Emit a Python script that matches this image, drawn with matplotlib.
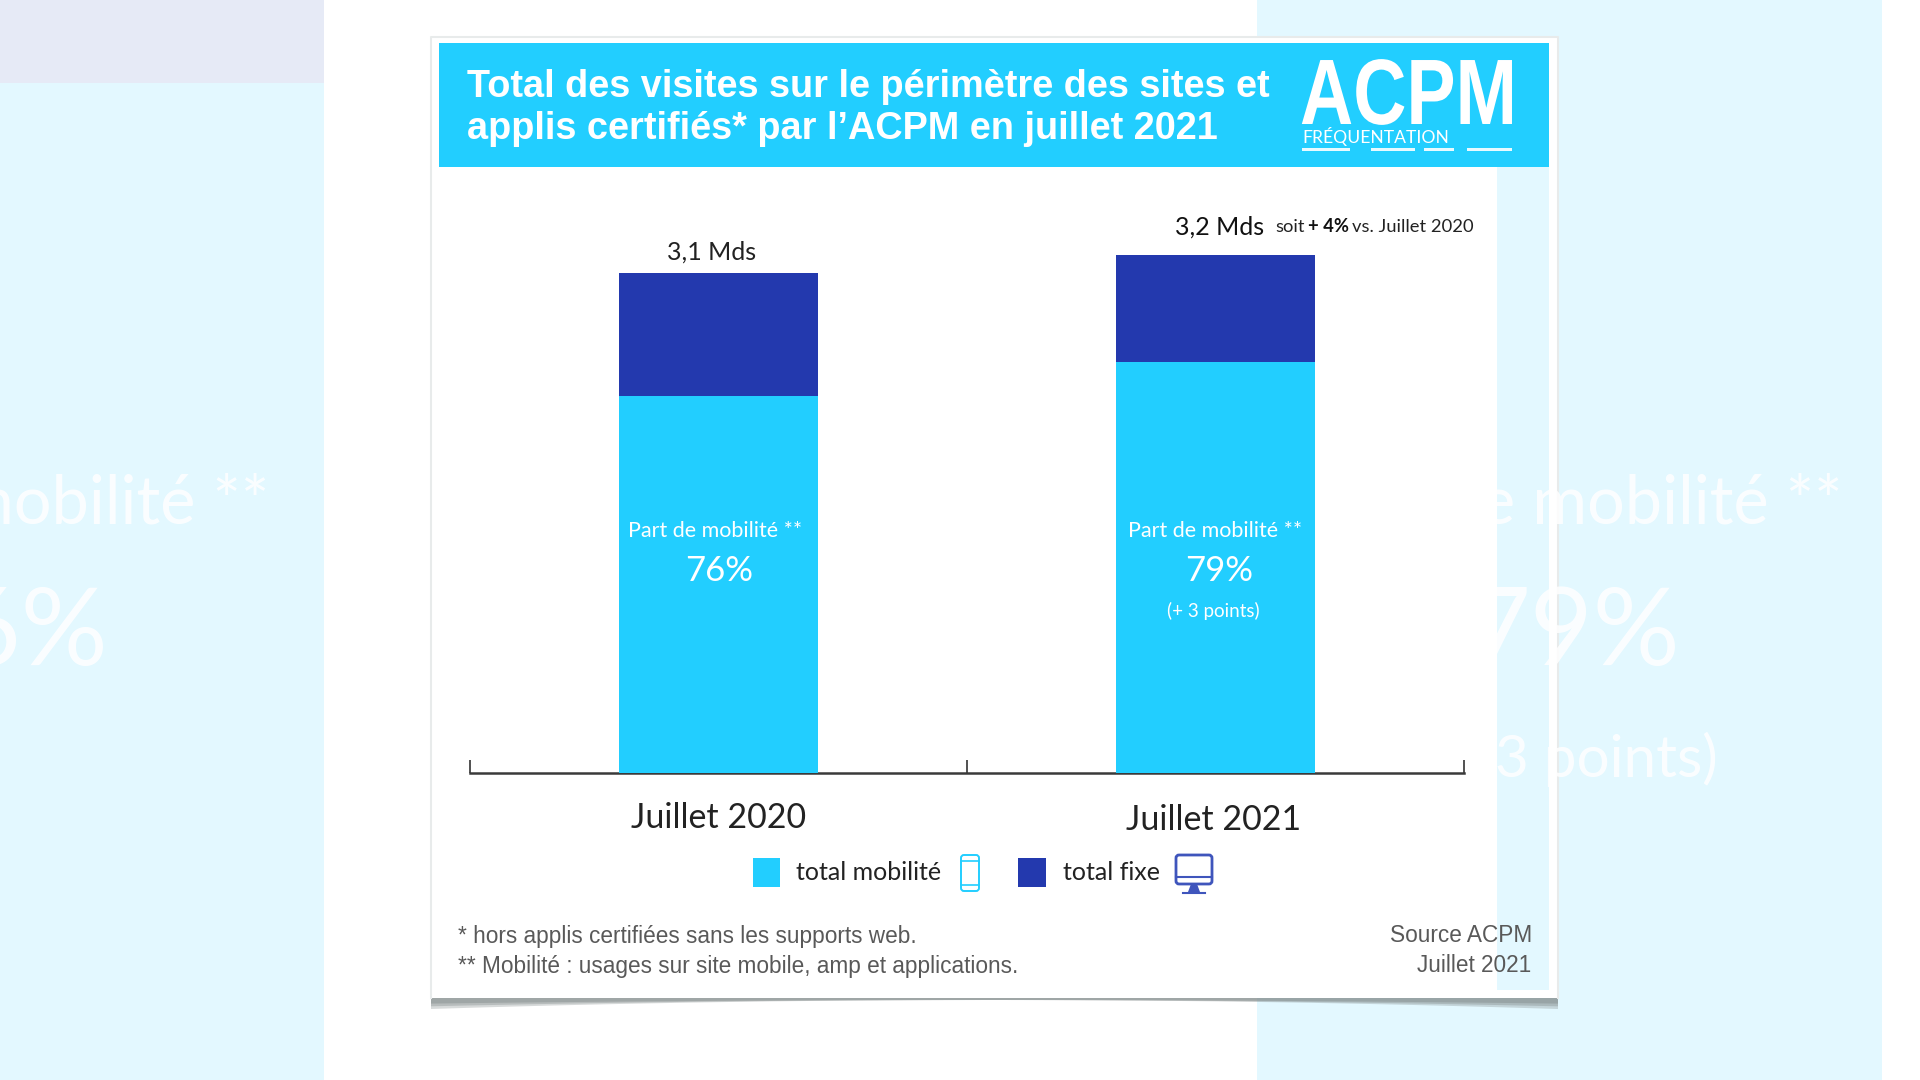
import numpy as np
import matplotlib
matplotlib.use("Agg")
import matplotlib.pyplot as plt
from matplotlib.patches import Rectangle, FancyBboxPatch, Polygon
from matplotlib.patheffects import AbstractPathEffect
from matplotlib.transforms import Affine2D, ScaledTranslation

# Data
periods = ["Juillet 2020", "Juillet 2021"]
mobile = [2.34, 2.55]
fixe = [0.76, 0.66]
total_labels = ["3,1 Mds", "3,2 Mds"]
mobile_share = ["76%", "79%"]

CYAN = "#22CEFF"
NAVY = "#2339AE"
GHOST = "#E3F8FF"
BODY = "Lato"
ARIAL = "Liberation Sans"


# The logo letters are taller than any installed font, so stretch them from the baseline
class Stretch(AbstractPathEffect):
    def __init__(self, sx, sy):
        super().__init__()
        self.sx = sx
        self.sy = sy

    def draw_path(self, renderer, gc, tpath, affine, rgbFace=None):
        renderer.draw_path(gc, tpath, Affine2D().scale(self.sx, self.sy) + affine, rgbFace)


fig = plt.figure(figsize=(19.2, 10.8), dpi=100, facecolor="white")

# Background layer, in pixels
bg = fig.add_axes([0, 0, 1, 1], zorder=0)
bg.set_xlim(0, 1920)
bg.set_ylim(1080, 0)
bg.axis("off")

bg.add_patch(Rectangle((0, 0), 324, 83, fc="#E6EAF6", ec="none"))
bg.add_patch(Rectangle((0, 83), 324, 997, fc=GHOST, ec="none"))
bg.add_patch(Rectangle((1257, 0), 625, 1080, fc=GHOST, ec="none"))

# Blown up copy of the chart behind the card
ghost_style = dict(color="white", alpha=0.85, family=BODY, clip_on=True, ha="right", va="center")
bg.text(269, 504, "mobilité **", fontsize=48, **ghost_style)
bg.text(108, 634, "76%", fontsize=78, **ghost_style)
bg.text(1843, 504, "e mobilité **", fontsize=48, **ghost_style)
bg.text(1680, 634, "79%", fontsize=78, **ghost_style)
bg.text(1718, 759, "3 points)", fontsize=42, **ghost_style)

# Shadow under the card
xs = np.linspace(431, 1558, 60)
for depth, alpha in [(10, 0.3), (7, 0.35), (4, 0.4)]:
    curve = 1000 + depth * ((xs - 994) / 563) ** 2 * 0.9
    pts = np.column_stack([np.r_[xs, xs[::-1]], np.r_[curve, np.full(60, 996)]])
    bg.add_patch(Polygon(pts, fc="#7d8585", ec="none", alpha=alpha))

# Card, with the see-through strip on its right side
card = [(431, 37), (1558, 37), (1558, 998), (431, 998), (431, 990), (1549, 990),
        (1549, 167), (1497, 167), (1497, 990), (431, 990)]
bg.add_patch(Polygon(card, fc="white", ec="none"))
bg.plot([431, 431, 1558, 1558], [998, 37, 37, 998], color="#e8ebeb", lw=1.5)

# Header
bg.add_patch(Rectangle((439, 43), 1110, 124, fc=CYAN, ec="none"))
bg.text(467, 87, "Total des visites sur le périmètre des sites et", color="white", family=ARIAL,
        fontweight="bold", fontsize=27.3, va="center")
bg.text(467, 129, "applis certifiés* par l’ACPM en juillet 2021", color="white", family=ARIAL,
        fontweight="bold", fontsize=27.3, va="center")

# Logo
bg.text(1300, 124, "ACPM", color="white", family=ARIAL, fontweight="bold", fontsize=51.5,
        va="baseline", path_effects=[Stretch(1.03, 1.3)])
bg.text(1302, 137, "FRÉQUENTATION", color="white", family=BODY, fontsize=12.6, va="center")
for x0, x1 in [(1302, 1350), (1371, 1415), (1424, 1454), (1467, 1512)]:
    bg.add_patch(Rectangle((x0, 148), x1 - x0, 3, fc="white", ec="none", alpha=0.9))

# Chart
ax = fig.add_axes([470 / 1920, (1080 - 773) / 1080, 994 / 1920, 533 / 1080], zorder=1)
ax.patch.set_alpha(0)
x = np.arange(len(periods))
ax.bar(x, mobile, width=0.4, color=CYAN, zorder=3, label="total mobilité")
ax.bar(x, fixe, width=0.4, bottom=mobile, color=NAVY, zorder=3, label="total fixe")
ax.set_xlim(-0.5, 1.5)
ax.set_ylim(0, 533 / 161.3)
ax.set_xticks(x)
ax.set_xticklabels(periods, family=BODY, fontsize=24.5, color="#222222")
ax.set_xticks([-0.5, 0.5, 1.5], minor=True)
ax.tick_params(axis="x", which="major", length=0, pad=21)
ax.tick_params(axis="x", which="minor", direction="in", length=9.5, width=1.2, color="#333333")
ax.set_yticks([])
for side in ["top", "left", "right"]:
    ax.spines[side].set_visible(False)
ax.spines["bottom"].set_linewidth(1.8)
ax.spines["bottom"].set_color("#3a3a3a")
lab = ax.get_xticklabels()[1]
lab.set_transform(lab.get_transform() + ScaledTranslation(-2 / 100, -2 / 100, fig.dpi_scale_trans))

# Texts on top of the chart, in pixels
fg = fig.add_axes([0, 0, 1, 1], zorder=2)
fg.set_xlim(0, 1920)
fg.set_ylim(1080, 0)
fg.axis("off")
fg.patch.set_alpha(0)

body = dict(family=BODY, ha="center", va="center")
fg.text(712, 252, total_labels[0], fontsize=18, color="#222222", **body)
fg.text(1220, 227, total_labels[1], fontsize=18, color="#111111", **body)
fg.text(1275, 227, "soit", fontsize=13.2, color="#222222", family=BODY, va="center")
fg.text(1308, 227, "+ 4%", fontsize=13.2, color="#111111", family=BODY, fontweight="bold", va="center")
fg.text(1352, 227, "vs. Juillet 2020", fontsize=13.2, color="#222222", family=BODY, va="center")

for cx, share in zip([715, 1215], mobile_share):
    fg.text(cx, 531, "Part de mobilité **", fontsize=15.5, color="white", **body)
    fg.text(cx + 4, 571, share, fontsize=25, color="white", **body)
fg.text(1213, 611, "(+ 3 points)", fontsize=13.5, color="white", **body)

# Legend
fg.add_patch(Rectangle((753, 858), 27, 29, fc=CYAN, ec="none"))
fg.text(796, 872, "total mobilité", fontsize=18, color="#222222", family=BODY, va="center")
fg.add_patch(FancyBboxPatch((961, 855), 18, 36, boxstyle="round,pad=0,rounding_size=3", fc="white", ec=CYAN, lw=1.4))
fg.plot([961, 979], [861, 861], color=CYAN, lw=1.2)
fg.plot([961, 979], [885, 885], color=CYAN, lw=1.2)
fg.add_patch(Rectangle((1018, 858), 28, 29, fc=NAVY, ec="none"))
fg.text(1063, 872, "total fixe", fontsize=18, color="#222222", family=BODY, va="center")
fg.add_patch(FancyBboxPatch((1176, 855), 36, 29, boxstyle="round,pad=0,rounding_size=3", fc="white", ec="#3F55BC", lw=2))
fg.plot([1176, 1212], [877, 877], color="#3F55BC", lw=1.5)
fg.add_patch(Polygon([(1191, 884), (1197, 884), (1200, 892), (1188, 892)], fc="#3F55BC", ec="none"))
fg.plot([1183, 1205], [893, 893], color="#3F55BC", lw=1.5)

# Footnotes
foot = dict(family=ARIAL, fontsize=16.3, color="#595959", va="center")
fg.text(458, 936, "* hors applis certifiées sans les supports web.", **foot)
fg.text(458, 966, "** Mobilité : usages sur site mobile, amp et applications.", **foot)
fg.text(1532, 936, "Source ACPM", ha="right", **foot)
fg.text(1531, 966, "Juillet 2021", ha="right", **foot)

fig.savefig("out.png", dpi=100)
